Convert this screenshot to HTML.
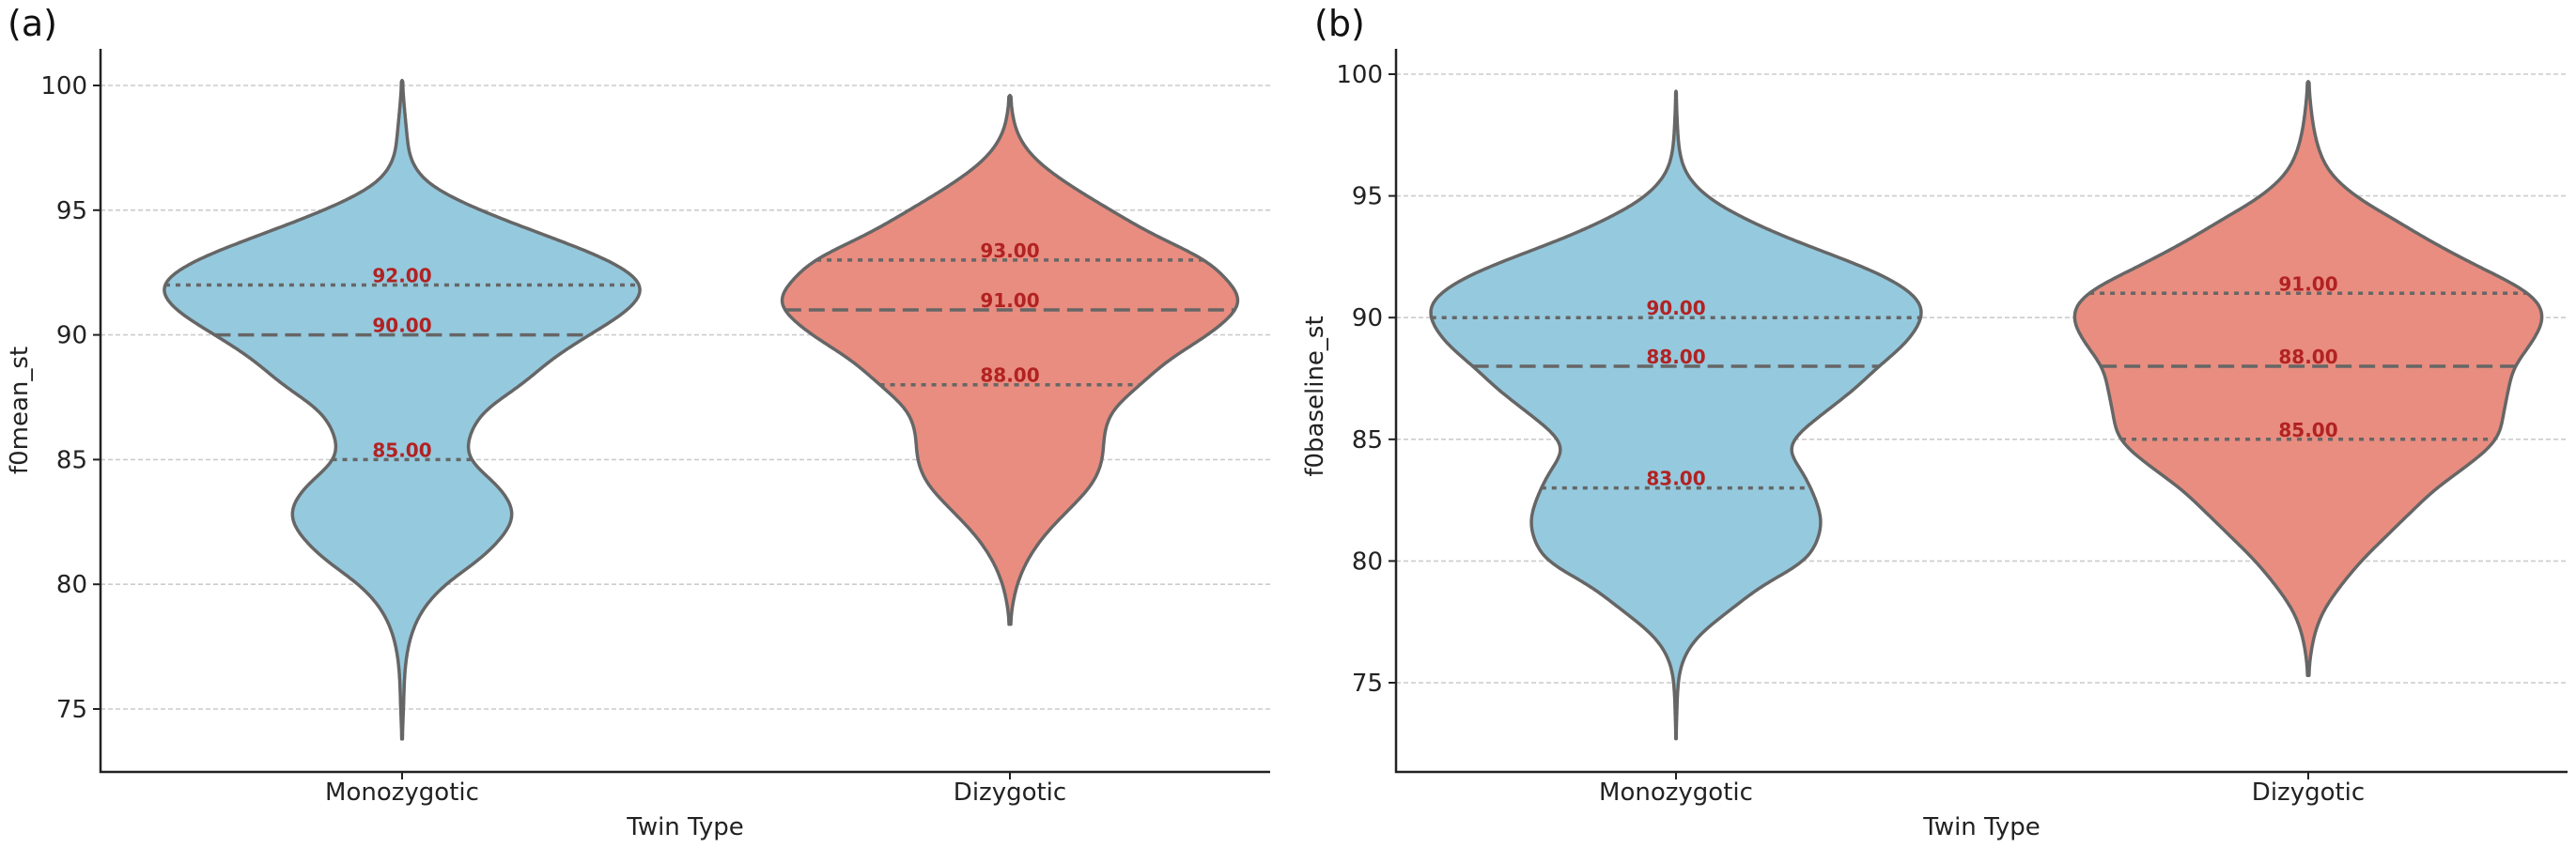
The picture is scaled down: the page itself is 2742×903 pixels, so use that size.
<!DOCTYPE html>
<html><head><meta charset="utf-8"><style>
html,body{margin:0;padding:0;background:#fff;}
svg{display:block;font-family:"DejaVu Sans","Liberation Sans",sans-serif;}
</style></head><body>
<svg id="fig" width="2742" height="903" viewBox="0 0 2742 903"></svg>
<script>
const categories = ["Monozygotic","Dizygotic"];
const yTicks = [75,80,85,90,95,100];
// panel (a) f0mean_st
const aMonoVals = [100.2,99,98,97,96,95,94,93,92,91,90,89,88,87,86,85,84,83,82.5,82,81,80,79,78,77,76,75,73.8];
const aMonoDens = [0,0.01,0.02,0.03,0.1,0.31,0.58,0.85,1.0,0.93,0.76,0.6,0.49,0.33,0.27,0.26,0.39,0.46,0.45,0.42,0.32,0.17,0.08,0.035,0.015,0.008,0.006,0];
const aDizVals = [99.6,99,98,97,96,95,94,93,92,91.5,91,90,89,88,87,86,85,84,83,82,81,80,79,78.4];
const aDizDens = [0,0.007,0.027,0.1,0.24,0.41,0.58,0.81,0.9,0.95,0.93,0.81,0.64,0.53,0.41,0.38,0.38,0.34,0.24,0.14,0.07,0.027,0.007,0];
const aMonoQuart = [85,90,92];
const aDizQuart = [88,91,93];
// panel (b) f0baseline_st
const bMonoVals = [99.3,98,97,96,95,94,93,92,91,90.2,89,88,87,86,85,84.4,84,83,82,81.3,80,79,78,77,76,75,72.7];
const bMonoDens = [0,0.005,0.01,0.03,0.11,0.28,0.51,0.78,0.96,1.0,0.93,0.81,0.71,0.58,0.46,0.44,0.49,0.54,0.58,0.585,0.53,0.34,0.22,0.09,0.025,0.007,0];
const bDizVals = [99.7,99,98,97,96,95,94,93,92,91,90.1,89,88,87,86,85,84,83,82,81,80,79,78,77,76,75.3];
const bDizDens = [0,0.007,0.017,0.037,0.077,0.18,0.35,0.51,0.7,0.9,0.953,0.9,0.82,0.8,0.78,0.765,0.65,0.51,0.41,0.31,0.21,0.13,0.06,0.023,0.007,0];
const bMonoQuart = [83,88,90];
const bDizQuart = [85,88,91];

const NS="http://www.w3.org/2000/svg";
const svg=document.getElementById('fig');
function mk(tag,attrs,parent){const e=document.createElementNS(NS,tag);for(const k in attrs)e.setAttribute(k,attrs[k]);(parent||svg).appendChild(e);return e;}

function densAt(vals,dens,v){
  for(let i=0;i<vals.length-1;i++){
    const a=vals[i],b=vals[i+1];
    if(v<=a&&v>=b){const t=(a-v)/(a-b);return dens[i]+(dens[i+1]-dens[i])*t;}
  }
  return 0;
}
// resample on fine grid and smooth
function profile(vals,dens){
  const top=vals[0],bot=vals[vals.length-1],step=0.05;
  const vs=[],ds=[];
  for(let v=top;v>=bot-1e-9;v-=step){vs.push(v);ds.push(densAt(vals,dens,v));}
  vs.push(bot);ds.push(0);
  let cur=ds;
  for(let pass=0;pass<3;pass++){
    const out=cur.slice();const r=8;
    for(let i=1;i<cur.length-1;i++){
      let s=0,n=0;
      for(let j=-r;j<=r;j++){const k=i+j;if(k>=0&&k<cur.length){s+=cur[k];n++;}}
      out[i]=s/n;
    }
    out[0]=0;out[out.length-1]=0;cur=out;
  }
  return {vs:vs,ds:cur};
}

function panel(cfg){
  const g=mk('g',{});
  
  
  const y=v=>cfg.y100+(100-v)*(cfg.y75-cfg.y100)/25;
  const xc=i=>cfg.xc[i];
  yTicks.forEach(t=>{
    const l=mk('line',{x1:cfg.left,x2:cfg.right,y1:y(t),y2:y(t),stroke:'#cccccc','stroke-width':1.6,'stroke-dasharray':'5,3'},g);
    
    
  });
  cfg.series.forEach((s,i)=>{
    const cx=xc(i);
    const pr=profile(s.vals,s.dens);
    let d="";
    pr.vs.forEach((v,k)=>{d+=(k?"L":"M")+(cx+pr.ds[k]*cfg.maxW).toFixed(1)+","+y(v).toFixed(1);});
    for(let k=pr.vs.length-1;k>=0;k--){d+="L"+(cx-pr.ds[k]*cfg.maxW).toFixed(1)+","+y(pr.vs[k]).toFixed(1);}
    d+="Z";
    const p=mk('path',{d:d,fill:s.color,stroke:'#666666','stroke-width':3.5,'stroke-linejoin':'round'},g);
    
    
    s.quart.forEach((q,k)=>{
      const w=densAt(pr.vs,pr.ds,q)*cfg.maxW;
      const ln=mk('line',{x1:cx-w,x2:cx+w,y1:y(q),y2:y(q),stroke:'#666666','stroke-width':3.5,'stroke-dasharray':k===1?'17,8':'5,6'},g);
      
      
      const t=mk('text',{x:cx,y:y(q)-3,'text-anchor':'middle','font-size':20,'font-weight':'bold',fill:'#b22222'},g);
      t.textContent=q.toFixed(2);
      
      
    });
  });
  const sp=mk('path',{d:`M${cfg.left},52 V${cfg.bottom} H${cfg.right}`,fill:'none',stroke:'#222','stroke-width':2.5},g);
  
  
  yTicks.forEach(t=>{
    mk('line',{x1:cfg.left-8,x2:cfg.left,y1:y(t),y2:y(t),stroke:'#222','stroke-width':2},g);
    const tx=mk('text',{x:cfg.left-14,y:y(t)+9,'text-anchor':'end','font-size':26,fill:'#222'},g);
    tx.textContent=t;
    
    
  });
  categories.forEach((c,i)=>{
    mk('line',{x1:xc(i),x2:xc(i),y1:cfg.bottom,y2:cfg.bottom+8,stroke:'#222','stroke-width':2},g);
    const tx=mk('text',{x:xc(i),y:cfg.bottom+30,'text-anchor':'middle','font-size':26,fill:'#222'},g);
    tx.textContent=c;
    
    
  });
  const xt=mk('text',{x:(cfg.left+cfg.right)/2,y:889,'text-anchor':'middle','font-size':26,fill:'#222'},g);
  xt.textContent='Twin Type';
  
  
  const yt=mk('text',{x:0,y:0,'text-anchor':'middle','font-size':26,fill:'#222',transform:`translate(${cfg.ytx},${cfg.ytY}) rotate(-90)`},g);
  yt.textContent=cfg.ylabel;
  
  
  const pl=mk('text',{x:cfg.plx,y:38,'font-size':38,fill:'#111'},g);
  pl.textContent=cfg.plabel;
  
  
}

panel({name:'panel-a',left:107,right:1352,bottom:822,y100:91,y75:755,xc:[428,1075],maxW:262,
  ylabel:'f0mean_st',ytx:29,ytY:437,plabel:'(a)',plx:8,
  series:[{vals:aMonoVals,dens:aMonoDens,quart:aMonoQuart,color:'#95c9de'},
          {vals:aDizVals,dens:aDizDens,quart:aDizQuart,color:'#e88d80'}]});
panel({name:'panel-b',left:1486,right:2733,bottom:822,y100:79,y75:727,xc:[1784,2457],maxW:266,
  ylabel:'f0baseline_st',ytx:1408,ytY:422,plabel:'(b)',plx:1399,
  series:[{vals:bMonoVals,dens:bMonoDens,quart:bMonoQuart,color:'#95c9de'},
          {vals:bDizVals,dens:bDizDens,quart:bDizQuart,color:'#e88d80'}]});
</script>
</body></html>
